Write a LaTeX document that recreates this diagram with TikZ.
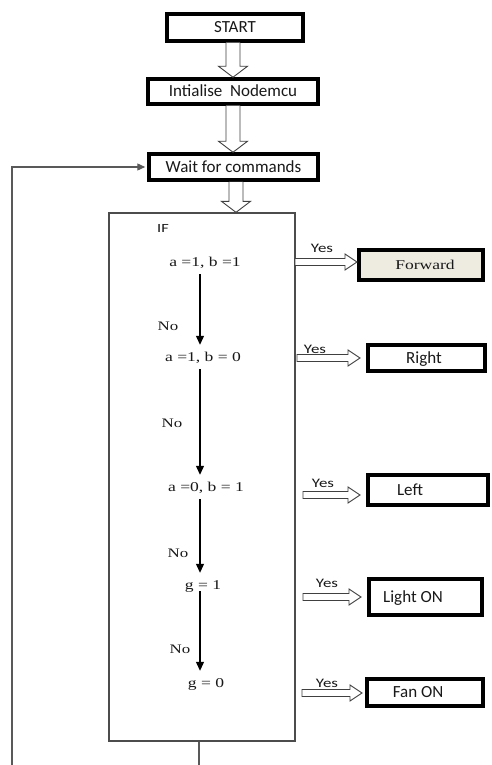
\documentclass[tikz,border=0pt]{standalone}
\usepackage{fontspec}
\usepackage{graphicx}
\setmainfont{Liberation Serif}
\newfontfamily\calib{Carlito}
\usetikzlibrary{arrows.meta,calc}
\definecolor{tanfill}{HTML}{EEECE1}
\newcommand{\wide}[1]{\scalebox{1.3}[1]{#1}}
% vertical block arrow: source node, target node, x offset
\newcommand{\vblk}[3]{\draw[blk] let \p1=(#1.south), \p2=(#2.north) in
  ({\x1+#3-7pt},\y1) -- ({\x1+#3-7pt},{\y2+11pt}) -- ({\x1+#3-14.5pt},{\y2+11pt}) --
  ({\x1+#3},\y2) -- ({\x1+#3+14.5pt},{\y2+11pt}) -- ({\x1+#3+7pt},{\y2+11pt}) -- ({\x1+#3+7pt},\y1);}
% horizontal block arrow: start coordinate, tip coordinate
\newcommand{\hblk}[2]{\draw[blk] let \p1=(#1), \p2=(#2) in
  (\x1,{\y1+3.5pt}) -- ({\x2-12pt},{\y1+3.5pt}) -- ({\x2-12pt},{\y1+8pt}) -- (\x2,\y1) --
  ({\x2-12pt},{\y1-8pt}) -- ({\x2-12pt},{\y1-3.5pt}) -- (\x1,{\y1-3.5pt}) -- cycle;}
\tikzset{
  mainbox/.style={draw=black, line width=3.5pt, fill=white, inner sep=0pt,
    text=black!90, text height=11pt, text depth=0pt, font=\calib\fontsize{17}{20}\selectfont},
  boxtxt/.style={inner sep=0pt, text=black!90, text height=11pt, text depth=0pt,
    font=\calib\fontsize{17}{20}\selectfont},
  blk/.style={draw=black!75, line width=0.9pt, fill=white, line join=miter},
  cond/.style={inner sep=0pt, minimum height=24pt, text height=9pt, text depth=0pt,
    text=black!90, font=\fontsize{13.5}{15}\selectfont},
  nolbl/.style={inner sep=0pt, text height=8.6pt, text depth=0pt, text=black!90,
    font=\fontsize{13}{15}\selectfont},
  yeslbl/.style={inner sep=0pt, text height=8.4pt, text depth=0pt, text=black!90,
    font=\calib\fontsize{13}{15}\selectfont},
  flow/.style={line width=1.2pt, -{Triangle[width=8pt,length=9pt]}},
  fb/.style={draw=black!65, line width=1.3pt},
}
\begin{document}
\begin{tikzpicture}[x=1pt,y=-1pt]
\useasboundingbox[fill=white] (0,0) rectangle (491,765);

% top boxes
\node[mainbox, minimum width=136pt, minimum height=27pt] (start) at (235,27.5) {START};
\node[mainbox, minimum width=170pt, minimum height=25pt] (init) at (233,91.5) {Intialise\ \ Nodemcu};
\node[mainbox, minimum width=169pt, minimum height=26pt] (wait) at (233.5,167) {Wait for commands};

% IF frame
\node[draw=black!70, line width=1.3pt, minimum width=186pt, minimum height=528pt, inner sep=0pt] (ifbox) at (202,477) {};
\node[inner sep=0pt, text height=8pt, text depth=0pt, text=black!90, font=\calib\fontsize{12.5}{14}\selectfont] (iftxt) at (163,228) {\wide{IF}};

% block arrows down
\vblk{start}{init}{-2pt}
\vblk{init}{wait}{0pt}
\vblk{wait}{ifbox}{2.5pt}

% conditions
\coordinate (ax) at (200,0);
\node[cond] (c1) at (205,262) {\wide{a =1, b =1}};
\node[cond] (c2) at (203,357) {\wide{a =1, b = 0}};
\node[cond] (c3) at (206,487) {\wide{a =0, b = 1}};
\node[cond] (c4) at (203,585) {\wide{g = 1}};
\node[cond] (c5) at (206,683) {\wide{g = 0}};
\draw[flow] (c1.south -| ax) -- (c2.north -| ax);
\draw[flow] (c2.south -| ax) -- (c3.north -| ax);
\draw[flow] (c3.south -| ax) -- (c4.north -| ax);
\draw[flow, shorten <=-6pt] (c4.south -| ax) -- (c5.north -| ax);
\node[nolbl] (n1) at (168,326) {\wide{No}};
\node[nolbl] (n2) at (172,423) {\wide{No}};
\node[nolbl] (n3) at (178,553) {\wide{No}};
\node[nolbl] (n4) at (180,649) {\wide{No}};

% output boxes
\node[mainbox, fill=tanfill, minimum width=124pt, minimum height=30pt] (fwd) at (421,265) {};
\node[inner sep=0pt, text height=8.6pt, text depth=0pt, text=black!90, font=\fontsize{13.5}{15}\selectfont] (fwdtxt) at (425,265) {\wide{Forward}};
\node[mainbox, minimum width=117pt, minimum height=26pt] (right) at (426.5,358) {};
\node[boxtxt] (righttxt) at (424,358) {Right};
\node[mainbox, minimum width=120pt, minimum height=30pt] (left) at (428,490) {};
\node[boxtxt] (lefttxt) at (410,490) {Left};
\node[mainbox, minimum width=113pt, minimum height=36pt] (light) at (425.5,597) {};
\node[boxtxt] (lighttxt) at (413,597) {Light ON};
\node[mainbox, minimum width=116pt, minimum height=27pt] (fan) at (425,692.5) {};
\node[boxtxt] (fantxt) at (418,692) {Fan ON};

% yes arrows
\coordinate (y1s) at (295,262); \coordinate (y1t) at (357,262);
\coordinate (y2s) at (297,358); \coordinate (y2t) at (360,358);
\coordinate (y3s) at (303,495); \coordinate (y3t) at (360,495);
\coordinate (y4s) at (303,597); \coordinate (y4t) at (361,597);
\coordinate (y5s) at (302,693); \coordinate (y5t) at (362,693);
\hblk{y1s}{y1t}
\hblk{y2s}{y2t}
\hblk{y3s}{y3t}
\hblk{y4s}{y4t}
\hblk{y5s}{y5t}
\node[yeslbl] (yes1) at (322,248) {\wide{Yes}};
\node[yeslbl] (yes2) at (315,349) {\wide{Yes}};
\node[yeslbl] (yes3) at (323,483) {\wide{Yes}};
\node[yeslbl] (yes4) at (327,583) {\wide{Yes}};
\node[yeslbl] (yes5) at (327,683) {\wide{Yes}};

% feedback loop
\coordinate (fbB) at (199,765);
\coordinate (fbC) at (12,765);
\draw[fb] (ifbox.south -| fbB) -- (fbB);
\draw[fb, -{Triangle[width=7pt,length=8pt]}, shorten >=2pt] (fbC) |- (wait.west);
\end{tikzpicture}
\end{document}
